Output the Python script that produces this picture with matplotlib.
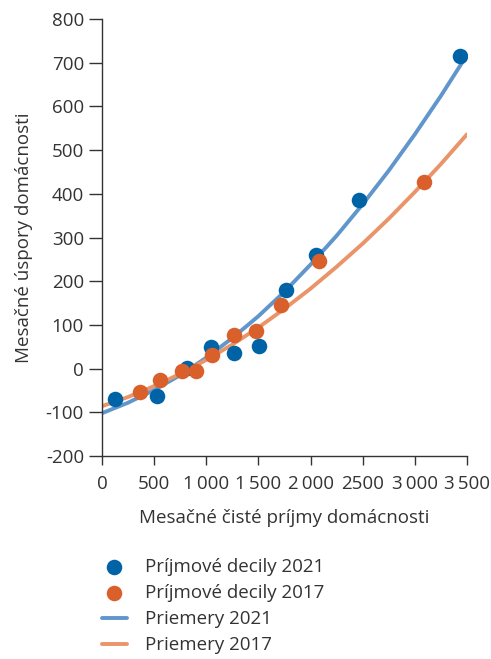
import numpy as np
import matplotlib.pyplot as plt

plt.rcParams['font.family'] = ['Open Sans', 'DejaVu Sans']

# decile points
dec21_x = [125, 527, 812, 1042, 1266, 1508, 1764, 2052, 2464, 3432]
dec21_y = [-70, -63, 1, 50, 36, 52, 181, 260, 386, 716]
dec17_x = [364, 556, 764, 901, 1056, 1265, 1476, 1713, 2078, 3087]
dec17_y = [-54, -25, -5, -5, 31, 77, 87, 146, 247, 426]

# average curves
avg21_x = [0, 250, 500, 750, 1000, 1250, 1500, 1750, 2000, 2250, 2500, 2750, 3000, 3250, 3480]
avg21_y = [-102, -78, -49, -15, 25, 70, 120, 176, 238, 304, 376, 453, 536, 624, 710]
avg17_x = [0, 250, 500, 750, 1000, 1250, 1500, 1750, 2000, 2250, 2500, 2750, 3000, 3250, 3500]
avg17_y = [-86, -65, -40, -12, 20, 55, 94, 137, 183, 233, 286, 343, 404, 468, 536]

xticks = [0, 500, 1000, 1500, 2000, 2500, 3000, 3500]
xtick_labels = ['0', '500', '1\u2009000', '1\u2009500', '2\u2009000', '2500', '3\u2009000', '3\u2009500']
yticks = [-200, -100, 0, 100, 200, 300, 400, 500, 600, 700, 800]

c_dark = '#333333'
blue_pt = '#0063A6'
orange_pt = '#D9602A'
blue_ln = '#6096CC'
orange_ln = '#EA9469'
fs = 13.5

fig = plt.figure(figsize=(4.91, 6.59), dpi=100)
ax = fig.add_axes([0.2077, 0.308, 0.7433, 0.6632])

l21, = ax.plot(avg21_x, avg21_y, color=blue_ln, lw=2.8, solid_capstyle='round', zorder=2, label='Priemery 2021')
l17, = ax.plot(avg17_x, avg17_y, color=orange_ln, lw=2.8, solid_capstyle='round', zorder=2, label='Priemery 2017')
s21 = ax.scatter(dec21_x, dec21_y, s=125, color=blue_pt, zorder=3, label='Príjmové decily 2021', linewidths=0)
s17 = ax.scatter(dec17_x, dec17_y, s=125, color=orange_pt, zorder=4, label='Príjmové decily 2017', linewidths=0)

ax.set_xlim(0, 3500)
ax.set_ylim(-200, 800)
ax.set_xticks(xticks)
ax.set_xticklabels(xtick_labels)
ax.set_yticks(yticks)
ax.set_yticklabels([str(v) for v in yticks])

for s in ['top', 'right']:
    ax.spines[s].set_visible(False)
for s in ['left', 'bottom']:
    ax.spines[s].set_color(c_dark)
    ax.spines[s].set_linewidth(1.0)
ax.tick_params(axis='both', colors=c_dark, labelsize=fs)
ax.tick_params(axis='y', length=9.5, width=1.0, pad=3.5)
ax.tick_params(axis='x', length=6.5, width=1.0, pad=7)

ax.set_xlabel('Mesačné čisté príjmy domácnosti', fontsize=fs, color=c_dark, labelpad=12)
ax.set_ylabel('Mesačné úspory domácnosti', fontsize=fs, color=c_dark, labelpad=9)

fig.legend(handles=[s21, s17, l21, l17], loc='upper left', bbox_to_anchor=(0.207, 0.153),
           frameon=False, fontsize=fs, labelcolor=c_dark, handlelength=1.35,
           labelspacing=0.43, handletextpad=0.95, borderaxespad=0, borderpad=0)

fig.savefig('out.png', dpi=100)
